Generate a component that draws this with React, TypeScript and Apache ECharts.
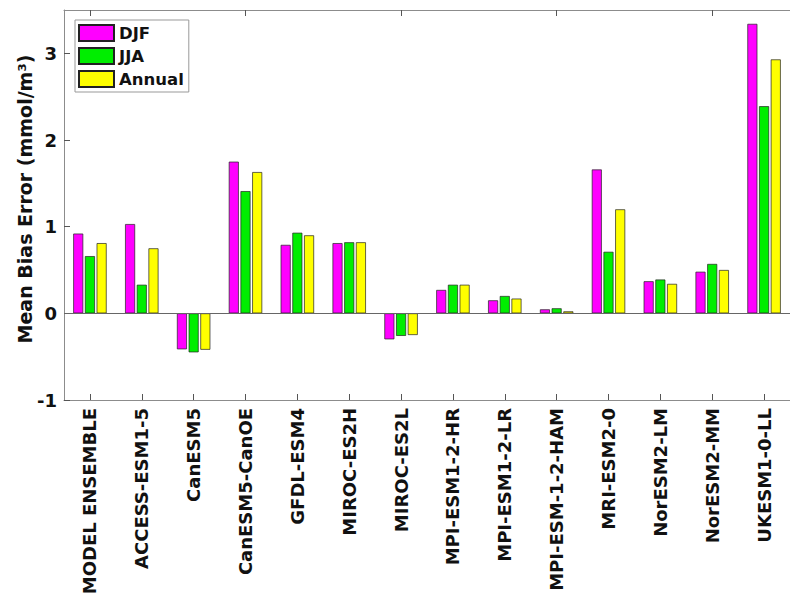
import React, { useEffect, useRef } from "react";
import * as echarts from "echarts";

const categories = [
  "MODEL ENSEMBLE",
  "ACCESS-ESM1-5",
  "CanESM5",
  "CanESM5-CanOE",
  "GFDL-ESM4",
  "MIROC-ES2H",
  "MIROC-ES2L",
  "MPI-ESM1-2-HR",
  "MPI-ESM1-2-LR",
  "MPI-ESM-1-2-HAM",
  "MRI-ESM2-0",
  "NorESM2-LM",
  "NorESM2-MM",
  "UKESM1-0-LL",
];

const djf = [0.92, 1.03, -0.415, 1.75, 0.79, 0.81, -0.3, 0.27, 0.15, 0.046, 1.66, 0.37, 0.48, 3.34];
const jja = [0.66, 0.33, -0.45, 1.41, 0.93, 0.82, -0.26, 0.33, 0.2, 0.058, 0.71, 0.39, 0.57, 2.39];
const annual = [0.81, 0.75, -0.42, 1.63, 0.9, 0.82, -0.25, 0.33, 0.17, 0.023, 1.2, 0.34, 0.5, 2.93];

const yAxisTitle = "Mean Bias Error (mmol/m³)";

const FONT = "DejaVu Sans";

export default function App() {
  const ref = useRef<HTMLDivElement>(null);

  useEffect(() => {
    if (!ref.current) return;
    const chart = echarts.init(ref.current, undefined, { renderer: "svg" });
    const barStyle = (color: string) => ({
      color,
      borderColor: "#222",
      borderWidth: 0.7,
    });
    chart.setOption({
      animation: false,
      backgroundColor: "#fff",
      grid: { left: 64, right: -7, top: 10, bottom: 203, containLabel: false },
      legend: {
        orient: "vertical",
        left: 75,
        top: 20,
        itemWidth: 35,
        itemHeight: 16,
        itemGap: 5,
        padding: [4, 5, 4, 3],
        borderColor: "#999",
        borderWidth: 1,
        backgroundColor: "#fff",
        icon: "rect",
        textStyle: { fontFamily: FONT, fontWeight: "bold", fontSize: 16.5, color: "#111" },
        data: ["DJF", "JJA", "Annual"],
      },
      graphic: [
        {
          type: "text",
          x: 25,
          y: 199,
          rotation: Math.PI / 2,
          silent: true,
          style: {
            text: yAxisTitle,
            align: "center",
            verticalAlign: "middle",
            fontFamily: FONT,
            fontWeight: "bold",
            fontSize: 19,
            fill: "#111",
          },
        },
      ],
      xAxis: [
        {
          type: "category",
          data: categories,
          position: "bottom",
          axisLine: { show: true, onZero: false, lineStyle: { color: "#8c8c8c", width: 1 } },
          axisTick: { show: true, inside: true, alignWithLabel: true, length: 6, lineStyle: { color: "#555" } },
          axisLabel: {
            rotate: 90,
            interval: 0,
            margin: 8,
            fontFamily: FONT,
            fontWeight: "bold",
            fontSize: 18,
            color: "#111",
          },
        },
        {
          type: "category",
          data: categories,
          position: "top",
          axisLine: { show: true, onZero: false, lineStyle: { color: "#8c8c8c", width: 1 } },
          axisTick: { show: true, inside: true, alignWithLabel: true, length: 6, lineStyle: { color: "#555" } },
          axisLabel: { show: false },
        },
      ],
      yAxis: {
        type: "value",
        min: -1,
        max: 3.5,
        interval: 1,
        axisLine: { show: true, lineStyle: { color: "#8c8c8c", width: 1 } },
        axisTick: { show: true, inside: true, length: 6, lineStyle: { color: "#555" } },
        splitLine: { show: false },
        axisLabel: {
          showMaxLabel: false,
          margin: 7,
          fontFamily: FONT,
          fontWeight: "bold",
          fontSize: 18,
          color: "#111",
        },
      },
      series: [
        {
          name: "DJF",
          type: "bar",
          data: djf,
          barWidth: 10,
          barGap: "17%",
          itemStyle: barStyle("#ff00ff"),
          markLine: {
            silent: true,
            symbol: "none",
            label: { show: false },
            lineStyle: { color: "#666", width: 1, type: "solid" },
            data: [{ yAxis: 0 }],
          },
        },
        { name: "JJA", type: "bar", data: jja, barWidth: 10, barGap: "17%", itemStyle: barStyle("#00ee00") },
        { name: "Annual", type: "bar", data: annual, barWidth: 10, barGap: "17%", itemStyle: barStyle("#ffff00") },
      ],
    });
    return () => chart.dispose();
  }, []);

  return (
    <div
      ref={ref}
      style={{ position: "absolute", left: 0, top: 0, width: 790, height: 603, background: "#fff" }}
    />
  );
}
